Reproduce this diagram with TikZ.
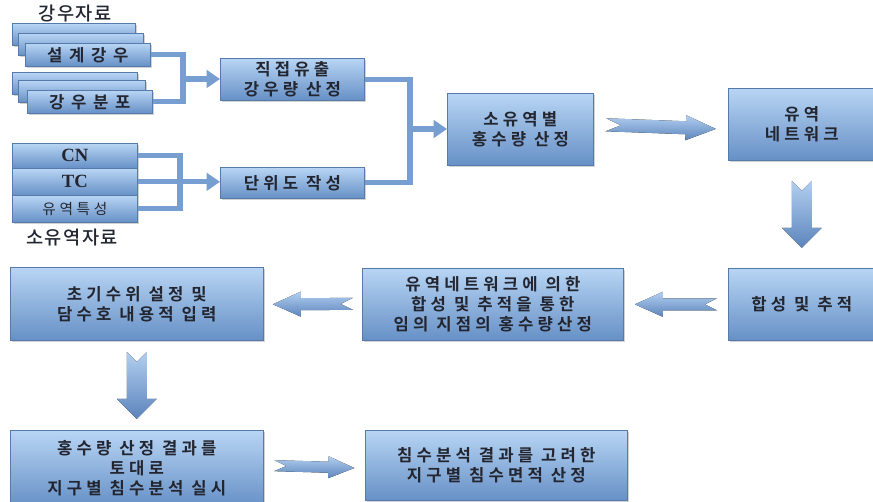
\documentclass[tikz,border=0pt]{standalone}
\usepackage{fontspec}
\setmainfont{Noto Sans CJK KR}
\newfontfamily\krfont{Noto Sans CJK KR}[LetterSpace=25,BoldFont={Noto Sans CJK KR Bold}]
\newfontfamily\krwide{Noto Sans CJK KR}[LetterSpace=40,BoldFont={Noto Sans CJK KR Bold}]
\newfontfamily\krlabel{Noto Sans CJK KR Medium}[LetterSpace=8]
\newfontfamily\latfont{Liberation Serif}
\usetikzlibrary{arrows.meta,shadows}

\definecolor{boxtop}{RGB}{184,213,244}
\definecolor{boxbot}{RGB}{102,144,198}
\definecolor{boxedge}{RGB}{86,122,170}
\definecolor{conncol}{RGB}{118,158,208}
\definecolor{arrtop}{RGB}{178,207,240}
\definecolor{arrbot}{RGB}{92,132,188}
\definecolor{txtcol}{RGB}{35,38,48}

\tikzset{
  blkbox/.style={draw=boxedge, line width=0.5pt, top color=boxtop, bottom color=boxbot,
    drop shadow={shadow xshift=1.2pt, shadow yshift=-1.2pt, opacity=0.35},
    anchor=north west, inner sep=0pt, align=center, text=txtcol,
    font=\krfont\bfseries\fontsize{12.5}{15}\selectfont},
  stackbox/.style={blkbox, font=\krwide\bfseries\fontsize{12.5}{15}\selectfont},
  lbl/.style={inner sep=0pt, text=txtcol, font=\krlabel\fontsize{14}{16}\selectfont},
  bracket/.style={draw=conncol, line width=4pt},
  conn/.style={bracket, -{Triangle[length=10pt,width=13pt]}},
  % block arrow with notched tail: length, half shaft, half head, head length, notch
  pics/fatarrow/.style n args={5}{code={
    \fill[top color=arrtop, bottom color=arrbot]
      (-#1/2,-#2) -- (#1/2-#4,-#2) -- (#1/2-#4,-#3) -- (#1/2,0) -- (#1/2-#4,#3)
      -- (#1/2-#4,#2) -- (-#1/2,#2) -- (-#1/2+#5,0) -- cycle;
  }},
}

\begin{document}
\begin{tikzpicture}[x=0.75pt,y=0.75pt,yscale=-1,xscale=1]
\fill[white] (0,0) rectangle (873,502);
\useasboundingbox (0,0) rectangle (873,502);

% rainfall data stacks
\node[lbl] (rainlbl) at (75,14) {강우자료};
\node[blkbox, minimum width=92.25pt, minimum height=16.5pt] (s1c) at (12,23) {};
\node[blkbox, minimum width=93.75pt, minimum height=16.5pt] (s1b) at (18,33) {};
\node[stackbox, minimum width=93.75pt, minimum height=17.25pt] (rain) at (25,43) {설계강우};
\node[blkbox, minimum width=93.75pt, minimum height=16.5pt] (s2c) at (12,72) {};
\node[blkbox, minimum width=95.25pt, minimum height=16.5pt] (s2b) at (18,80) {};
\node[stackbox, minimum width=93.75pt, minimum height=17.25pt] (dist) at (27,90) {강우분포};

% subbasin data
\node[blkbox, minimum width=93.75pt, minimum height=18.75pt, font=\latfont\bfseries\fontsize{14}{15}\selectfont] (cn) at (12,143) {CN};
\node[blkbox, minimum width=93.75pt, minimum height=20.25pt, font=\latfont\bfseries\fontsize{14}{15}\selectfont] (tc) at (12,168) {TC};
\node[blkbox, minimum width=93.75pt, minimum height=20.25pt, font=\krfont\fontsize{11}{13}\selectfont] (basin) at (12,195) {유역특성};
\node[lbl] (basinlbl) at (72,238) {소유역자료};

% process boxes
\node[blkbox, minimum width=108pt, minimum height=31.5pt] (direct) at (220,58) {직접유출\\강우량 산정};
\node[blkbox, minimum width=108pt, minimum height=23.25pt] (unit) at (220,167) {단위도 작성};
\node[blkbox, minimum width=109.5pt, minimum height=54pt] (sub) at (447,93) {소유역별\\홍수량 산정};
\node[blkbox, minimum width=110.25pt, minimum height=54pt] (net) at (728,88) {유역\\네트워크};
\node[blkbox, minimum width=110.25pt, minimum height=54pt] (comb) at (728,268) {합성 및 추적};
\node[blkbox, minimum width=195.75pt, minimum height=54pt] (route) at (362,268) {유역네트워크에 의한\\합성 및 추적을 통한\\임의 지점의 홍수량산정};
\node[blkbox, minimum width=189.75pt, minimum height=54.75pt] (init) at (10,267) {초기수위 설정 및\\담수호 내용적 입력};
\node[blkbox, minimum width=189.75pt, minimum height=57pt] (flood) at (10,430) {홍수량 산정 결과를\\토대로\\지구별 침수분석 실시};
\node[blkbox, minimum width=196.5pt, minimum height=52.5pt] (inund) at (365,430) {침수분석 결과를 고려한\\지구별 침수면적 산정};

% brackets and connectors
\coordinate (j1) at (183,79);
\draw[bracket] (rain.east) -| (j1) |- (dist.east);
\draw[conn] (j1) -- (j1 -| direct.west);
\coordinate (j2) at (180,181.5);
\draw[bracket] (cn.east) -| (j2) |- (basin.east);
\draw[conn] (tc.east) -- (tc.east -| unit.west);
\coordinate (j3) at (410,129);
\draw[bracket] (direct.east) -| (j3) |- (unit.east);
\draw[conn] (j3) -- (j3 -| sub.west);

% block arrows (yscale=-1 mirrors the vertical ones, hence xscale=-1)
\path (sub.east) -- (net.west) pic[midway, sloped, allow upside down] {fatarrow={110}{6.5}{12.5}{30}{15}};
\path (net.south) -- (comb.north) pic[midway, sloped, allow upside down, xscale=-1] {fatarrow={67}{10}{20}{20}{10}};
\path (comb.west) -- (route.east) pic[midway, sloped, allow upside down] {fatarrow={82}{6}{12.5}{28}{12}};
\path (route.west) -- (init.east) pic[midway, sloped, allow upside down] {fatarrow={80}{6}{12.5}{28}{12}};
\path (init.south) -- (flood.north) pic[midway, sloped, allow upside down, xscale=-1] {fatarrow={67}{10}{20}{20}{10}};
\path (flood.east) -- (inund.west) pic[midway, sloped, allow upside down] {fatarrow={80}{5.5}{11}{26}{12}};

\end{tikzpicture}
\end{document}
